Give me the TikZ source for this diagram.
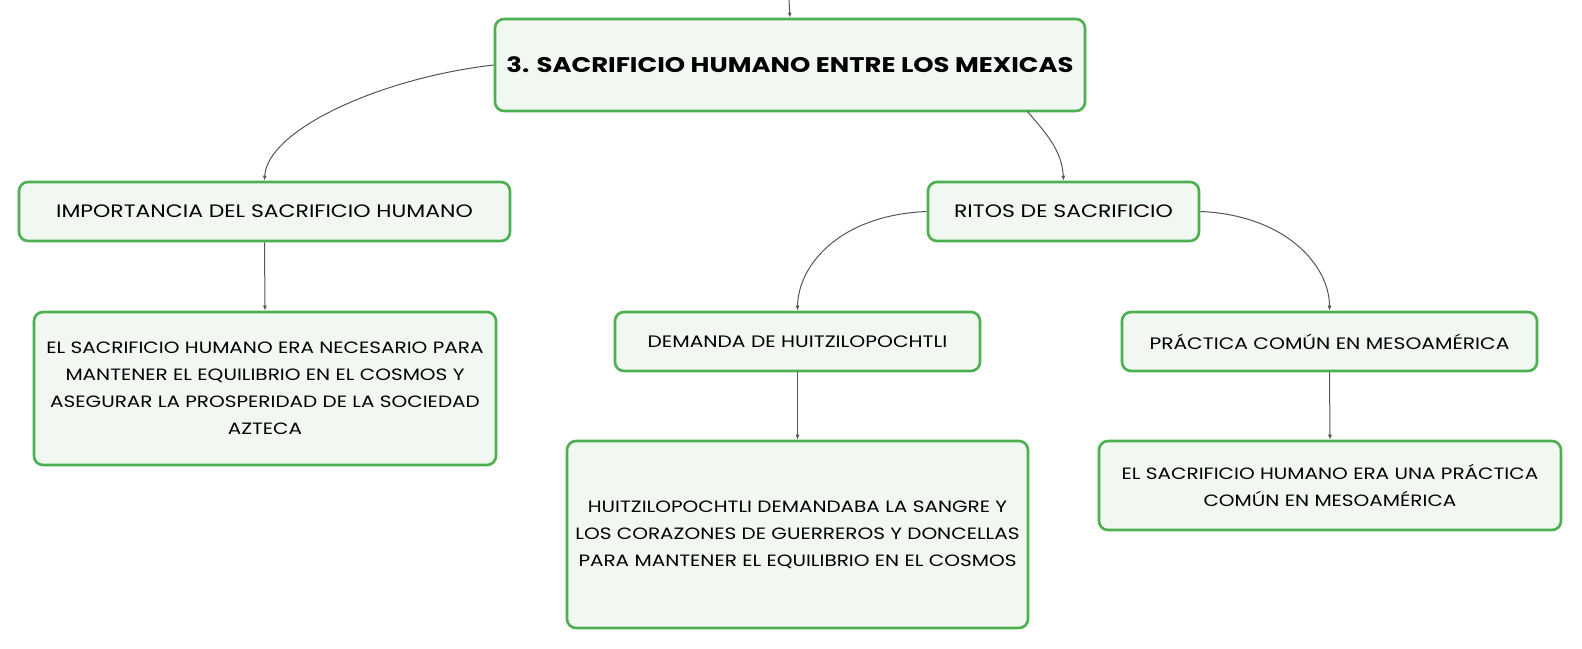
\documentclass[tikz,border=0pt]{standalone}
\usepackage{fontspec}
\setmainfont{Poppins}[FakeStretch=1.22]
\usetikzlibrary{arrows.meta}
\definecolor{boxgreen}{HTML}{4CAF50}
\definecolor{boxfill}{HTML}{F1F8F2}
\definecolor{linkgray}{HTML}{555555}
\tikzset{
  box/.style={draw=boxgreen, line width=2.6pt, fill=boxfill, rounded corners=9pt,
    align=center, inner sep=0pt, font=\fontsize{16.4}{27}\selectfont, text=black},
  titlebox/.style={box, font=\fontsize{18}{27}\selectfont},
  subbox/.style={box, font=\fontsize{16.6}{27}\selectfont},
  rootbox/.style={box, font=\bfseries\fontsize{21.2}{27}\selectfont},
  link/.style={draw=linkgray, line width=1pt, -{Latex[length=5pt,width=4pt]}},
}
\begin{document}
\begin{tikzpicture}[x=1pt,y=-1pt]
\useasboundingbox[fill=white] (0,0) rectangle (1582,648);
\node[rootbox, minimum width=590pt, minimum height=92pt] (root) at (790,65) {3. SACRIFICIO HUMANO ENTRE LOS MEXICAS};
\node[titlebox, minimum width=491pt, minimum height=59pt] (imp) at (264.5,211.5) {IMPORTANCIA DEL SACRIFICIO HUMANO};
\node[titlebox, minimum width=271pt, minimum height=59pt] (ritos) at (1063.5,211.5) {RITOS DE SACRIFICIO};
\node[box, minimum width=462pt, minimum height=153pt] (impc) at (265,388.5) {EL SACRIFICIO HUMANO ERA NECESARIO PARA\\MANTENER EL EQUILIBRIO EN EL COSMOS Y\\ASEGURAR LA PROSPERIDAD DE LA SOCIEDAD\\AZTECA};
\node[subbox, minimum width=365pt, minimum height=59pt] (dem) at (797.5,341.5) {DEMANDA DE HUITZILOPOCHTLI};
\node[subbox, minimum width=415pt, minimum height=59pt] (prac) at (1329.5,341.5) {PRÁCTICA COMÚN EN MESOAMÉRICA};
\node[box, minimum width=461pt, minimum height=187pt] (huitz) at (797.5,534.5) {HUITZILOPOCHTLI DEMANDABA LA SANGRE Y\\LOS CORAZONES DE GUERREROS Y DONCELLAS\\PARA MANTENER EL EQUILIBRIO EN EL COSMOS};
\node[box, minimum width=462pt, minimum height=89pt] (pracc) at (1330,485.5) {EL SACRIFICIO HUMANO ERA UNA PRÁCTICA\\COMÚN EN MESOAMÉRICA};
\coordinate (topin) at (789,0);
\coordinate (rootout) at (1027,111);
\draw[link] (topin) -- (root.north);
\draw[link] (root.west) .. controls (380,78) and (267,130) .. (imp.north);
\draw[link] (rootout) .. controls (1045,132) and (1062,150) .. (ritos.north);
\draw[link] (ritos.west) .. controls (840,215) and (798,265) .. (dem.north);
\draw[link] (ritos.east) .. controls (1285,215) and (1329.5,265) .. (prac.north);
\draw[link] (imp.south) -- (impc.north);
\draw[link] (dem.south) -- (huitz.north);
\draw[link] (prac.south) -- (pracc.north);
\end{tikzpicture}
\end{document}
